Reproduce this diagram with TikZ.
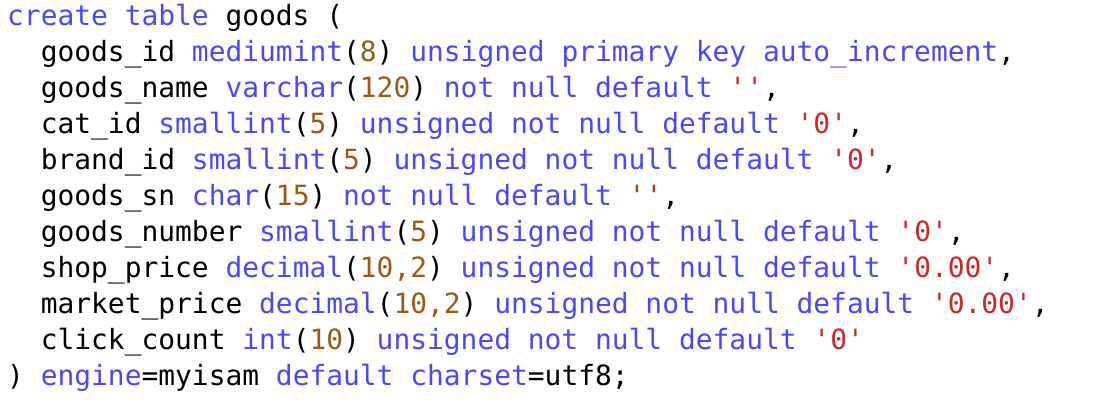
\documentclass[tikz,border=0pt]{standalone}
\usepackage{fontspec}
\setmonofont{DejaVu Sans Mono}
\definecolor{sqlblue}{RGB}{72,72,250}
\definecolor{sqlbrown}{RGB}{155,90,20}
\definecolor{sqlred}{RGB}{205,40,40}
\newcommand\sqlkw[1]{\textcolor{sqlblue}{#1}}
\newcommand\sqlnum[1]{\textcolor{sqlbrown}{#1}}
\newcommand\sqlstr[1]{\textcolor{sqlred}{\textquotesingle#1\textquotesingle}}
\begin{document}
\begin{tikzpicture}[x=1pt, y=1pt,
    codeline/.style={anchor=base west, inner sep=0pt, font=\ttfamily\fontsize{27.9}{36}\selectfont}]
  \useasboundingbox (0, 0) rectangle (1094, -406);
  \node[codeline] (l1) at (7, -26) {\sqlkw{create table} goods (};
  \node[codeline] (l2) at (40.6, -61.9) {goods\_id \sqlkw{mediumint}(\sqlnum{8}) \sqlkw{unsigned primary key auto\_increment},};
  \node[codeline] (l3) at (40.6, -97.8) {goods\_name \sqlkw{varchar}(\sqlnum{120}) \sqlkw{not null default} \sqlstr{},};
  \node[codeline] (l4) at (40.6, -133.7) {cat\_id \sqlkw{smallint}(\sqlnum{5}) \sqlkw{unsigned not null default} \sqlstr{0},};
  \node[codeline] (l5) at (40.6, -169.6) {brand\_id \sqlkw{smallint}(\sqlnum{5}) \sqlkw{unsigned not null default} \sqlstr{0},};
  \node[codeline] (l6) at (40.6, -205.5) {goods\_sn \sqlkw{char}(\sqlnum{15}) \sqlkw{not null default} \sqlstr{},};
  \node[codeline] (l7) at (40.6, -241.4) {goods\_number \sqlkw{smallint}(\sqlnum{5}) \sqlkw{unsigned not null default} \sqlstr{0},};
  \node[codeline] (l8) at (40.6, -277.3) {shop\_price \sqlkw{decimal}(\sqlnum{10,2}) \sqlkw{unsigned not null default} \sqlstr{0.00},};
  \node[codeline] (l9) at (40.6, -313.2) {market\_price \sqlkw{decimal}(\sqlnum{10,2}) \sqlkw{unsigned not null default} \sqlstr{0.00},};
  \node[codeline] (l10) at (40.6, -349.1) {click\_count \sqlkw{int}(\sqlnum{10}) \sqlkw{unsigned not null default} \sqlstr{0}};
  \node[codeline] (l11) at (7, -385) {) \sqlkw{engine}=myisam \sqlkw{default charset}=utf8;};
\end{tikzpicture}
\end{document}
